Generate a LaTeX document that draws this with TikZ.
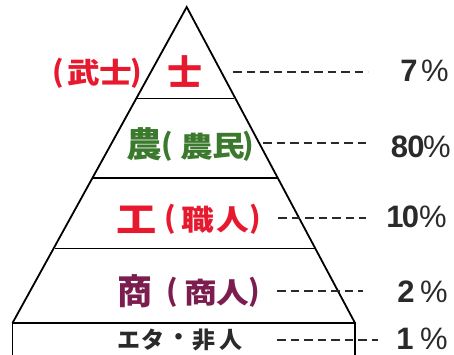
\documentclass[tikz,border=0pt]{standalone}
\usepackage{fontspec}
\newfontfamily\jpf{Noto Sans CJK JP}
\newfontfamily\numf{Liberation Sans}
\definecolor{cred}{HTML}{E6192E}
\definecolor{cgreen}{HTML}{3B7A2E}
\definecolor{cpurple}{HTML}{7B1E4F}
\definecolor{cdark}{HTML}{2A2A2A}
\tikzset{
  big/.style={inner sep=0pt, font=\jpf\bfseries\fontsize{35}{35}\selectfont},
  sm/.style={inner sep=0pt, font=\jpf\bfseries\fontsize{28.5}{28.5}\selectfont},
  par/.style={inner sep=0pt, font=\jpf\bfseries\fontsize{29}{29}\selectfont},
  tiny/.style={inner sep=0pt, font=\jpf\bfseries\fontsize{23}{23}\selectfont, text=cdark},
  pct/.style={inner sep=0pt, font=\numf\bfseries\fontsize{31}{31}\selectfont, text=cdark},
  pc/.style={inner sep=0pt, font=\numf\fontsize{31}{31}\selectfont, text=cdark},
  edge/.style={line width=1.8pt, black},
  dsh/.style={line width=2pt, cdark, dash pattern=on 8.5pt off 5pt},
}
\newcommand{\widechar}[1]{\scalebox{1.15}[1]{#1}}
\begin{document}
\begin{tikzpicture}[x=1pt,y=-1pt]
\useasboundingbox (0,0) rectangle (454,354);
% pyramid
\coordinate (apex) at (186.7,7);
\coordinate (bl) at (12.5,323);
\coordinate (br) at (355,323);
\coordinate (l1) at (136.5,98.5); \coordinate (r1) at (234,98.5);
\coordinate (l2) at (92.5,178);   \coordinate (r2) at (277,178);
\coordinate (l3) at (54.5,248.5); \coordinate (r3) at (315,248.5);
\coordinate (bl2) at (12.5,356);  \coordinate (br2) at (355,356);
\draw[edge, line join=miter] (bl) -- (apex) -- (br);
\draw[edge] (l1) -- (r1);
\draw[edge] (l2) -- (r2);
\draw[edge] (l3) -- (r3);
\draw[edge] (bl2) -- (bl) -- (br) -- (br2);
% row 1
\node[par, text=cred] (lp1) at (58.5,73) {(};
\node[sm, text=cred] (bu) at (84,72.5) {\widechar{武}};
\node[sm, text=cred] (shis) at (115.5,72.5) {\widechar{士}};
\node[par, text=cred] (rp1) at (136.5,73) {)};
\node[big, text=cred] (shi) at (184.5,72) {士};
\coordinate (d1a) at (233,72); \coordinate (d1b) at (368,72);
\draw[dsh] (d1a) -- (d1b);
\node[pct] (p7) at (409,71) {7};
\node[pc] (pc1) at (435,71) {\%};
% row 2
\node[big, text=cgreen] (nou) at (144.5,144) {\scalebox{1.02}[1]{農}};
\node[par, text=cgreen] (lp2) at (167.5,146.5) {(};
\node[sm, text=cgreen] (nous) at (197,146.5) {\widechar{農}};
\node[sm, text=cgreen] (min) at (229,146.5) {\widechar{民}};
\node[par, text=cgreen] (rp2) at (248,146.5) {)};
\coordinate (d2a) at (263,143); \coordinate (d2b) at (366,143);
\draw[dsh] (d2a) -- (d2b);
\node[pct] (p8) at (399.5,147) {8};
\node[pct] (p0) at (416,147) {0};
\node[pc] (pc2) at (437,147) {\%};
% row 3
\node[big, text=cred] (kou) at (137,219.5) {\widechar{工}};
\node[par, text=cred] (lp3) at (170,219.5) {(};
\node[sm, text=cred] (shoku) at (197.5,219.5) {\widechar{職}};
\node[sm, text=cred] (nin) at (232.5,219.5) {\widechar{人}};
\node[par, text=cred] (rp3) at (255,219.5) {)};
\coordinate (d3a) at (278,218); \coordinate (d3b) at (366,218);
\draw[dsh] (d3a) -- (d3b);
\node[pct] (p1a) at (395,217) {1};
\node[pct] (p0b) at (410.5,217) {0};
\node[pc] (pc3) at (433,217) {\%};
% row 4
\node[big, text=cpurple] (shou) at (135,291) {商};
\node[par, text=cpurple] (lp4) at (172.5,292) {(};
\node[sm, text=cpurple] (shous) at (201,292.5) {\widechar{商}};
\node[sm, text=cpurple] (nin2) at (232.5,292.5) {\widechar{人}};
\node[par, text=cpurple] (rp4) at (254.5,292) {)};
\coordinate (d4a) at (277,291); \coordinate (d4b) at (363,291);
\draw[dsh] (d4a) -- (d4b);
\node[pct] (p2) at (406,292) {2};
\node[pc] (pc4) at (434,292) {\%};
% row 5
\node[tiny] (e) at (128.5,340) {エ};
\node[tiny] (ta) at (153,340) {タ};
\node[tiny] (dot) at (178.5,340) {・};
\node[tiny] (hi) at (204,340) {非};
\node[tiny] (nin3) at (231,340) {人};
\coordinate (d5a) at (277,340); \coordinate (d5b) at (378,340);
\draw[dsh] (d5a) -- (d5b);
\node[pct] (p1) at (405,339) {1};
\node[pc] (pc5) at (434,339) {\%};
\end{tikzpicture}
\end{document}
